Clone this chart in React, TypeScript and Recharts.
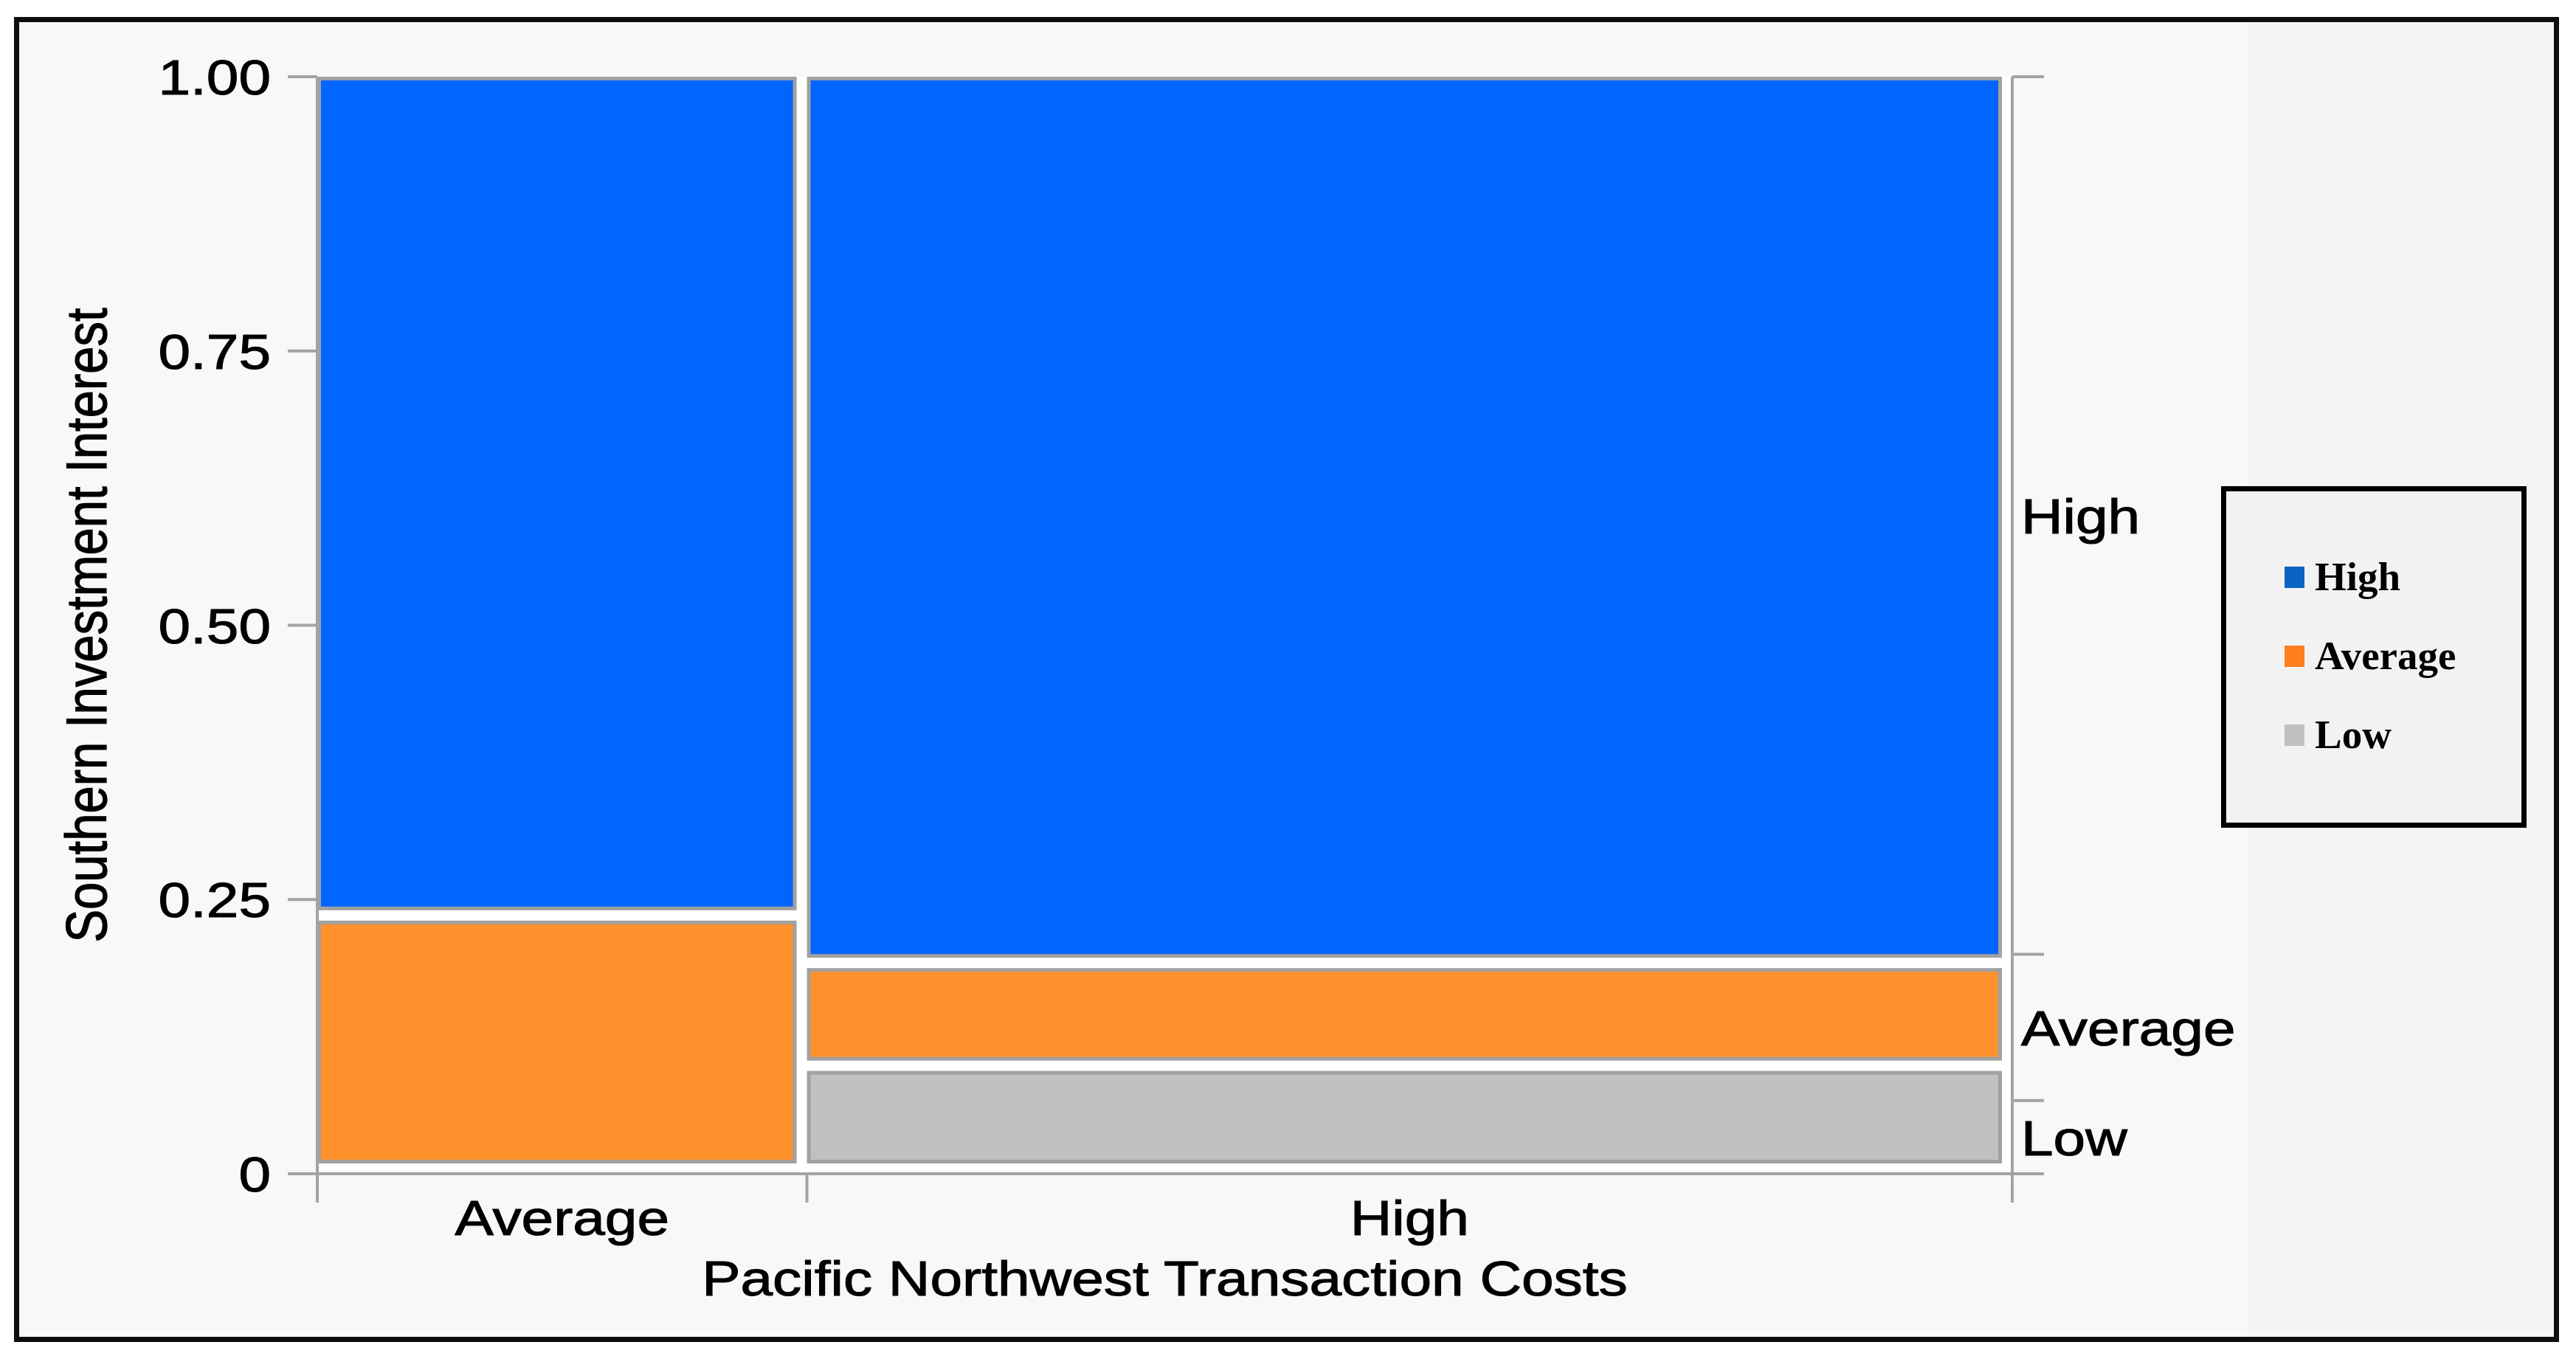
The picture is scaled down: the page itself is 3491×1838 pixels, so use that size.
import React from 'react';
import { ComposedChart, XAxis, YAxis, ReferenceArea } from 'recharts';

// Pacific Northwest Transaction Costs (columns) x Southern Investment Interest (rows)
const columns = ['Average', 'High'];
const levels = ['Low', 'Average', 'High']; // stacked bottom to top
const lowCounts = [0, 3];
const averageCounts = [3, 3];
const highCounts = [10, 26];
const yTicks = [0, 0.25, 0.5, 0.75, 1];

const CELL_COLORS: Record<string, string> = { Low: '#c0c0c0', Average: '#ff912c', High: '#0066ff' };
const LEGEND_COLORS: Record<string, string> = { Low: '#c0c0c0', Average: '#ff7f1f', High: '#0a64c4' };
const AXIS_GRAY = '#a3a3a3';
const CELL_BORDER = '#a1a1a1';
const FONT = '"Liberation Sans", Arial, Helvetica, sans-serif';
const STRETCH = 1.17; // the source picture is widened horizontally
const GAP = 14;
const SW = 5;

const countsByLevel = [lowCounts, averageCounts, highCounts];
const colTotals = columns.map((_, i) => countsByLevel.reduce((s, c) => s + c[i], 0));
const grandTotal = colTotals.reduce((a, b) => a + b, 0);

const colEdges: number[] = [0];
colTotals.forEach(t => colEdges.push(colEdges[colEdges.length - 1] + t / grandTotal));
const colCenters = columns.map((_, i) => (colEdges[i] + colEdges[i + 1]) / 2);

const levelTotals = countsByLevel.map(c => c.reduce((a, b) => a + b, 0));
const rowEdges: number[] = [0];
levelTotals.forEach(t => rowEdges.push(rowEdges[rowEdges.length - 1] + t / grandTotal));
const rowCenters = levels.map((_, j) => (rowEdges[j] + rowEdges[j + 1]) / 2);

type Cell = { key: string; level: string; x1: number; x2: number; y1: number; y2: number };
const cells: Cell[] = [];
columns.forEach((col, i) => {
  let acc = 0;
  levels.forEach((lvl, j) => {
    const p = countsByLevel[j][i] / colTotals[i];
    if (p > 0) cells.push({ key: `${col}-${lvl}`, level: lvl, x1: colEdges[i], x2: colEdges[i + 1], y1: acc, y2: acc + p });
    acc += p;
  });
});

const chartData = columns.map((c, i) => ({ name: c, x: colCenters[i] }));
const xTicks = [...colEdges, ...colCenters].sort((a, b) => a - b);
const rightTicks = [...rowEdges, ...rowCenters].sort((a, b) => a - b);

const near = (a: number, b: number) => Math.abs(a - b) < 1e-9;

const txt = (x: number, y: number, anchor: string, label: string, extra = '') => (
  <text
    transform={`translate(${x},${y}) scale(${STRETCH},1)${extra}`}
    textAnchor={anchor}
    dy="0.36em"
    fontSize={67}
    fontFamily={FONT}
    fill="#000"
    stroke="#000"
    strokeWidth={1.1}
  >
    {label}
  </text>
);

const LeftTick = (p: any) => txt(p.x, p.y, 'end', p.payload.value === 0 ? '0' : p.payload.value.toFixed(2));

const XTick = (p: any) => {
  const ci = colCenters.findIndex(c => near(c, p.payload.value));
  if (ci >= 0) return txt(p.x, p.y + 59, 'middle', columns[ci]);
  return <line x1={p.x} x2={p.x} y1={p.y} y2={p.y + 39} stroke={AXIS_GRAY} strokeWidth={4} />;
};

const RightTick = (p: any) => {
  const li = rowCenters.findIndex(c => near(c, p.payload.value));
  if (li >= 0) return txt(p.x + 12, p.y, 'start', levels[li]);
  return <line x1={p.x} x2={p.x + 43} y1={p.y} y2={p.y} stroke={AXIS_GRAY} strokeWidth={4} />;
};

const cellShape = (fill: string) => (p: any) => (
  <rect
    x={p.x + SW / 2}
    y={p.y + SW / 2}
    width={Math.max(0, p.width - GAP - SW)}
    height={Math.max(0, p.height - GAP - SW)}
    fill={fill}
    stroke={CELL_BORDER}
    strokeWidth={SW}
  />
);

const App: React.FC = () => {
  return (
    <div style={{ position: 'absolute', left: 0, top: 0, width: 3491, height: 1838, background: '#fff' }}>
      {/* frame */}
      <div
        style={{
          position: 'absolute', left: 19, top: 23, width: 3449, height: 1796,
          boxSizing: 'border-box', border: '7px solid #0d0d0d', background: '#f8f8f8',
        }}
      >
        <div style={{ position: 'absolute', left: 3020, top: 0, right: 0, bottom: 0, background: '#f5f5f5' }} />
      </div>

      <div style={{ position: 'absolute', left: 0, top: 0 }}>
        <ComposedChart width={3491} height={1838} data={chartData} margin={{ top: 104, right: 464, bottom: 47, left: 0 }}>
          <XAxis
            type="number"
            dataKey="x"
            domain={[0, 1]}
            allowDataOverflow
            ticks={xTicks}
            interval={0}
            tickSize={0}
            tickMargin={0}
            tickLine={false}
            tick={XTick}
            axisLine={{ stroke: AXIS_GRAY, strokeWidth: 4 }}
            height={200}
            label={(props: any) => {
              const vb = props.viewBox ?? { x: 430, y: 1591, width: 2297 };
              return txt(vb.x + vb.width / 2, vb.y + 141, 'middle', 'Pacific Northwest Transaction Costs');
            }}
          />
          <YAxis
            yAxisId="left"
            type="number"
            domain={[0, 1]}
            allowDataOverflow
            ticks={yTicks}
            interval={0}
            tickSize={40}
            tickMargin={23}
            tickLine={{ stroke: AXIS_GRAY, strokeWidth: 4 }}
            axisLine={{ stroke: AXIS_GRAY, strokeWidth: 4 }}
            tick={LeftTick}
            width={430}
            label={(props: any) => {
              const vb = props.viewBox ?? { x: 0, y: 104, height: 1487 };
              return (
                <text
                  transform={`translate(${vb.x + 116},${vb.y + vb.height / 2}) scale(${STRETCH},1) rotate(-90)`}
                  textAnchor="middle"
                  dy="0.36em"
                  fontSize={67}
                  fontFamily={FONT}
                  fill="#000"
                  stroke="#000"
                  strokeWidth={1.1}
                >
                  Southern Investment Interest
                </text>
              );
            }}
          />
          <YAxis
            yAxisId="right"
            orientation="right"
            type="number"
            domain={[0, 1]}
            allowDataOverflow
            ticks={rightTicks}
            interval={0}
            tickSize={0}
            tickMargin={0}
            tickLine={false}
            tick={RightTick}
            axisLine={{ stroke: AXIS_GRAY, strokeWidth: 4 }}
            width={300}
          />
          <ReferenceArea
            yAxisId="left"
            x1={0}
            x2={1}
            y1={0}
            y2={1}
            shape={(p: any) => <rect x={p.x} y={p.y} width={p.width} height={p.height} fill="#ffffff" />}
          />
          {cells.map(c => (
            <ReferenceArea
              key={c.key}
              yAxisId="left"
              x1={c.x1}
              x2={c.x2}
              y1={c.y1}
              y2={c.y2}
              shape={cellShape(CELL_COLORS[c.level])}
            />
          ))}
        </ComposedChart>
      </div>

      {/* legend */}
      <div
        style={{
          position: 'absolute', left: 3010, top: 659, width: 414, height: 463,
          boxSizing: 'border-box', border: '7px solid #000', background: '#f2f2f2',
        }}
      >
        {[...levels].reverse().map((lvl, i) => (
          <div
            key={lvl}
            style={{ position: 'absolute', left: 79, top: 86 + i * 107, height: 60, display: 'flex', alignItems: 'center' }}
          >
            <div style={{ width: 27, height: 29, background: LEGEND_COLORS[lvl], marginRight: 14 }} />
            <span style={{ fontFamily: '"Liberation Serif", "Times New Roman", serif', fontWeight: 700, fontSize: 55, color: '#000', lineHeight: '60px' }}>
              {lvl}
            </span>
          </div>
        ))}
      </div>
    </div>
  );
};

export default App;
